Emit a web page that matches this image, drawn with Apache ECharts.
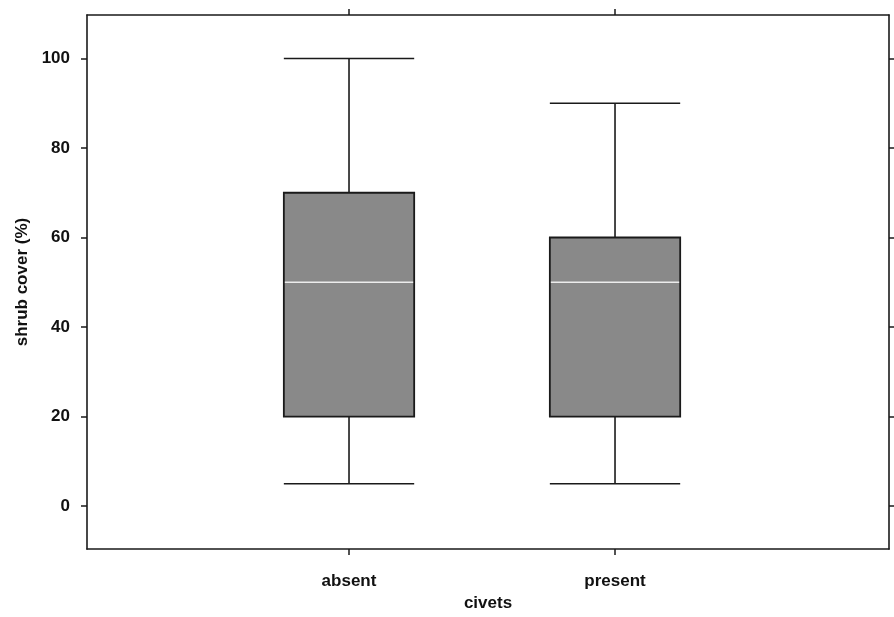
<!DOCTYPE html>
<html>
<head>
<meta charset="utf-8">
<script src="https://cdn.jsdelivr.net/npm/echarts@6/dist/echarts.min.js"></script>
<style>html,body{margin:0;padding:0;background:#fff;}#c{width:894px;height:617px;}</style>
</head>
<body>
<div id="c"></div>
<script>
// Data
var categories = ['absent', 'present'];
var categoryPos = [1, 2];
var whiskerLow = [5, 5];
var q1Values = [20, 20];
var medianValues = [50, 50];
var q3Values = [70, 60];
var whiskerHigh = [100, 90];
var yTicks = [0, 20, 40, 60, 80, 100];

var boxData = categories.map(function (c, i) {
  return [categoryPos[i], whiskerLow[i], q1Values[i], medianValues[i], q3Values[i], whiskerHigh[i]];
});

var chart = echarts.init(document.getElementById('c'), null, {renderer: 'canvas'});
var lineColor = '#1a1a1a';
var font = 'Liberation Sans, Arial, sans-serif';

function renderBox(params, api) {
  var x = api.value(0);
  var lo = api.coord([x, api.value(1)]);
  var q1 = api.coord([x, api.value(2)]);
  var md = api.coord([x, api.value(3)]);
  var q3 = api.coord([x, api.value(4)]);
  var hi = api.coord([x, api.value(5)]);
  var halfW = api.size([1, 0])[0] * 0.245;
  var cx = lo[0];
  var stroke = {stroke: lineColor, lineWidth: 1.6, fill: null};
  return {
    type: 'group',
    children: [
      {type: 'line', shape: {x1: cx, y1: hi[1], x2: cx, y2: q3[1]}, style: stroke},
      {type: 'line', shape: {x1: cx, y1: q1[1], x2: cx, y2: lo[1]}, style: stroke},
      {type: 'line', shape: {x1: cx - halfW, y1: hi[1], x2: cx + halfW, y2: hi[1]}, style: stroke},
      {type: 'line', shape: {x1: cx - halfW, y1: lo[1], x2: cx + halfW, y2: lo[1]}, style: stroke},
      {type: 'rect', shape: {x: cx - halfW, y: q3[1], width: halfW * 2, height: q1[1] - q3[1]},
        style: {fill: '#898989', stroke: lineColor, lineWidth: 1.8}},
      {type: 'line', shape: {x1: cx - halfW + 1, y1: md[1], x2: cx + halfW - 1, y2: md[1]},
        style: {stroke: '#ececec', lineWidth: 1.5}}
    ]
  };
}

var axisLineStyle = {show: true, onZero: false, lineStyle: {color: lineColor, width: 1.6}};
var tickStyle = {color: lineColor, width: 1.5};
var labelStyle = {color: '#111', fontSize: 17, fontWeight: 'bold', fontFamily: font};

chart.setOption({
  backgroundColor: '#ffffff',
  animation: false,
  grid: {left: 87, right: 5, top: 15, bottom: 63},
  xAxis: [
    {
      type: 'value', min: 0.015, max: 3.03, position: 'bottom',
      name: 'civets', nameLocation: 'middle', nameGap: 45,
      nameTextStyle: labelStyle,
      axisLine: axisLineStyle,
      axisTick: {show: true, inside: false, length: 6, customValues: categoryPos, lineStyle: tickStyle},
      axisLabel: Object.assign({show: true, margin: 24, customValues: categoryPos,
        formatter: function (v) { var i = categoryPos.indexOf(v); return i >= 0 ? categories[i] : ''; }}, labelStyle),
      splitLine: {show: false}
    },
    {
      type: 'value', min: 0.015, max: 3.03, position: 'top',
      axisLine: axisLineStyle,
      axisTick: {show: true, inside: false, length: 6, customValues: categoryPos, lineStyle: tickStyle},
      axisLabel: {show: false},
      splitLine: {show: false}
    }
  ],
  yAxis: [
    {
      type: 'value', min: -9.6, max: 109.7, position: 'left',
      name: 'shrub cover (%)', nameLocation: 'middle', nameGap: 49, nameRotate: 90,
      nameTextStyle: labelStyle,
      axisLine: axisLineStyle,
      axisTick: {show: true, inside: false, length: 6, customValues: yTicks, lineStyle: tickStyle},
      axisLabel: Object.assign({show: true, margin: 17, customValues: yTicks}, labelStyle),
      splitLine: {show: false}
    },
    {
      type: 'value', min: -9.6, max: 109.7, position: 'right',
      axisLine: axisLineStyle,
      axisTick: {show: true, inside: false, length: 5, customValues: yTicks, lineStyle: tickStyle},
      axisLabel: {show: false},
      splitLine: {show: false}
    }
  ],
  series: [{
    type: 'custom',
    xAxisIndex: 0, yAxisIndex: 0,
    renderItem: renderBox,
    encode: {x: 0, y: [1, 2, 3, 4, 5]},
    data: boxData,
    clip: false
  }]
});
</script>
</body>
</html>
